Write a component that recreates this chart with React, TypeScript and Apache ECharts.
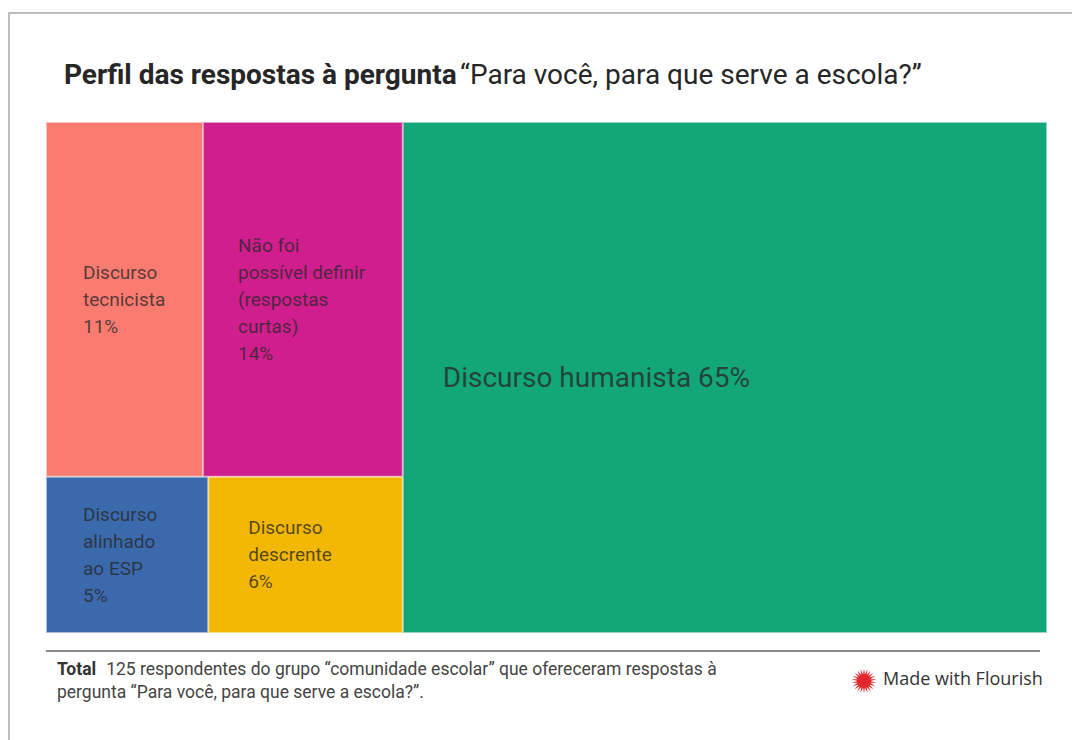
import React, { useEffect, useRef } from "react";
import * as echarts from "echarts";

// ---- data ----
const categories = [
  "Discurso tecnicista",
  "Não foi possível definir (respostas curtas)",
  "Discurso alinhado ao ESP",
  "Discurso descrente",
  "Discurso humanista",
];
const values = [11, 14, 5, 6, 65];
const labelTexts = [
  "Discurso\ntecnicista\n11%",
  "Não foi\npossível definir\n(respostas\ncurtas)\n14%",
  "Discurso\nalinhado\nao ESP\n5%",
  "Discurso\ndescrente\n6%",
  "Discurso humanista 65%",
];
// indices of the categories that share the left block
const leftBlock = [0, 1, 2, 3];
const mainIndex = 4;

const titleBold = "Perfil das respostas à pergunta";
const titleRegular = "“Para você, para que serve a escola?”";
const footBold = "Total";
const footLine1 = "125 respondentes do grupo “comunidade escolar” que ofereceram respostas à";
const footLine2 = "pergunta “Para você, para que serve a escola?”.";
const credit = "Made with Flourish";

// ---- styles ----
const colors = ["#FA7B70", "#D01E8E", "#3A69AC", "#F2B701", "#13A679"];
const labelInset = [36, 34, 36, 39, 39];

function tint(hex: string, k: number) {
  const n = parseInt(hex.slice(1), 16);
  const r = (n >> 16) & 255, g = (n >> 8) & 255, b = n & 255;
  const m = (c: number) => Math.round(c + (255 - c) * k);
  return `rgb(${m(r)},${m(g)},${m(b)})`;
}

function starPoints(cx: number, cy: number, spikes: number, ro: number, ri: number) {
  const pts: number[][] = [];
  for (let i = 0; i < spikes * 2; i++) {
    const r = i % 2 === 0 ? ro : ri;
    const a = (Math.PI * i) / spikes - Math.PI / 2;
    pts.push([cx + r * Math.cos(a), cy + r * Math.sin(a)]);
  }
  return pts;
}

export default function App() {
  const ref = useRef<HTMLDivElement>(null);
  useEffect(() => {
    if (!ref.current) return;
    const chart = echarts.init(ref.current, undefined, { renderer: "svg" });
    const FONT = "Roboto, 'Noto Sans', sans-serif";
    const labelColor = "rgba(40,40,40,0.78)";

    const leaf = (i: number) => ({
      name: categories[i],
      value: values[i],
      itemStyle: { color: colors[i], borderWidth: 1, borderColor: tint(colors[i], 0.55) },
      label: {
        formatter: labelTexts[i],
        distance: labelInset[i],
        fontSize: i === mainIndex ? 28 : 19,
        lineHeight: i === mainIndex ? 34 : 27,
      },
    });

    const data = [
      {
        name: "Demais discursos",
        value: leftBlock.reduce((s, i) => s + values[i], 0),
        itemStyle: { borderWidth: 0, gapWidth: 0, color: "#ffffff" },
        children: leftBlock.map(leaf),
      },
      leaf(mainIndex),
    ];

    chart.setOption({
      animation: false,
      backgroundColor: "#ffffff",
      graphic: [
        { type: "line", shape: { x1: 9, y1: 13, x2: 1072, y2: 13 }, style: { stroke: "#bdbdbd", lineWidth: 2 } },
        { type: "line", shape: { x1: 9, y1: 12, x2: 9, y2: 740 }, style: { stroke: "#bdbdbd", lineWidth: 2 } },
        {
          type: "text",
          left: 64,
          top: 60,
          style: {
            text: `{b|${titleBold}} {r|${titleRegular}}`,
            rich: {
              b: { fontFamily: FONT, fontSize: 28, fontWeight: "bold", fill: "#262626" },
              r: { fontFamily: FONT, fontSize: 28, fill: "#262626" },
            },
          },
        },
        { type: "line", shape: { x1: 46, y1: 651, x2: 1040, y2: 651 }, style: { stroke: "#8a8a8a", lineWidth: 2 } },
        {
          type: "text",
          left: 57,
          top: 660,
          style: {
            text: `{b|${footBold}}   {r|${footLine1}}\n{r|${footLine2}}`,
            rich: {
              b: { fontFamily: FONT, fontSize: 17.5, fontWeight: "bold", fill: "#333333", lineHeight: 23 },
              r: { fontFamily: FONT, fontSize: 17.5, fill: "#444444", lineHeight: 23 },
            },
          },
        },
        {
          type: "polygon",
          shape: { points: starPoints(864, 681, 22, 12.5, 6.5) },
          style: { fill: "#E3262C" },
        },
        {
          type: "text",
          left: 883,
          top: 669,
          style: { text: credit, fontFamily: "'Open Sans', Roboto, sans-serif", fontSize: 18, fill: "#333333" },
        },
      ],
      series: [
        {
          type: "treemap",
          left: 46,
          top: 122,
          width: 1001,
          height: 511,
          roam: false,
          nodeClick: false,
          sort: false,
          breadcrumb: { show: false },
          squareRatio: 0.5 * (1 + Math.sqrt(5)),
          levels: [
            { itemStyle: { borderWidth: 0, gapWidth: 0 } },
            { itemStyle: { borderWidth: 0, gapWidth: 0 } },
            { itemStyle: { borderWidth: 0, gapWidth: 0 } },
          ],
          label: {
            show: true,
            position: "insideLeft",
            align: "left",
            verticalAlign: "middle",
            padding: 0,
            color: labelColor,
            fontFamily: FONT,
            fontSize: 19,
            lineHeight: 27,
            overflow: "none",
          },
          upperLabel: { show: false },
          data,
        },
      ],
    });
    return () => chart.dispose();
  }, []);
  return (
    <div
      ref={ref}
      style={{ position: "fixed", left: 0, top: 0, width: 1072, height: 740, background: "#fff" }}
    />
  );
}
